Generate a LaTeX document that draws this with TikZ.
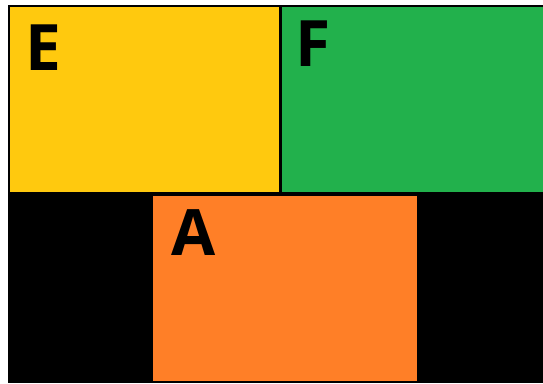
\documentclass[tikz,border=0pt]{standalone}
\usepackage{fontspec}
\setmainfont{Open Sans}
\usepackage{tikz}
\usetikzlibrary{positioning, calc}

\definecolor{gold}{HTML}{FFC90E}
\definecolor{grass}{HTML}{22B14C}
\definecolor{tangerine}{HTML}{FF7F27}

\begin{document}
\begin{tikzpicture}[
  x=1pt, y=-1pt,
  block/.style={rectangle, anchor=north west, inner sep=0pt, outer sep=0pt},
  tag/.style={anchor=base west, inner sep=0pt, font=\fontsize{64}{64}\selectfont\bfseries},
]
\useasboundingbox (0,0) rectangle (543,383);
\fill[white] (0,0) rectangle (543,383);

\node[block, fill=black, minimum width=535pt, minimum height=378pt] (frame) at (8,5) {};
\node[block, fill=gold, minimum width=269pt, minimum height=185pt] (e) at (10,7) {};
\node[block, fill=grass, minimum width=261pt, minimum height=185pt] (f) at (282,7) {};
\node[block, fill=tangerine, minimum width=264pt, minimum height=185pt] (a) at (153,196) {};

\node[tag] (labe) at (25,70) {E};
\node[tag] (labf) at (295,66) {F};
\node[tag] (laba) at (171,255) {A};
\end{tikzpicture}
\end{document}
